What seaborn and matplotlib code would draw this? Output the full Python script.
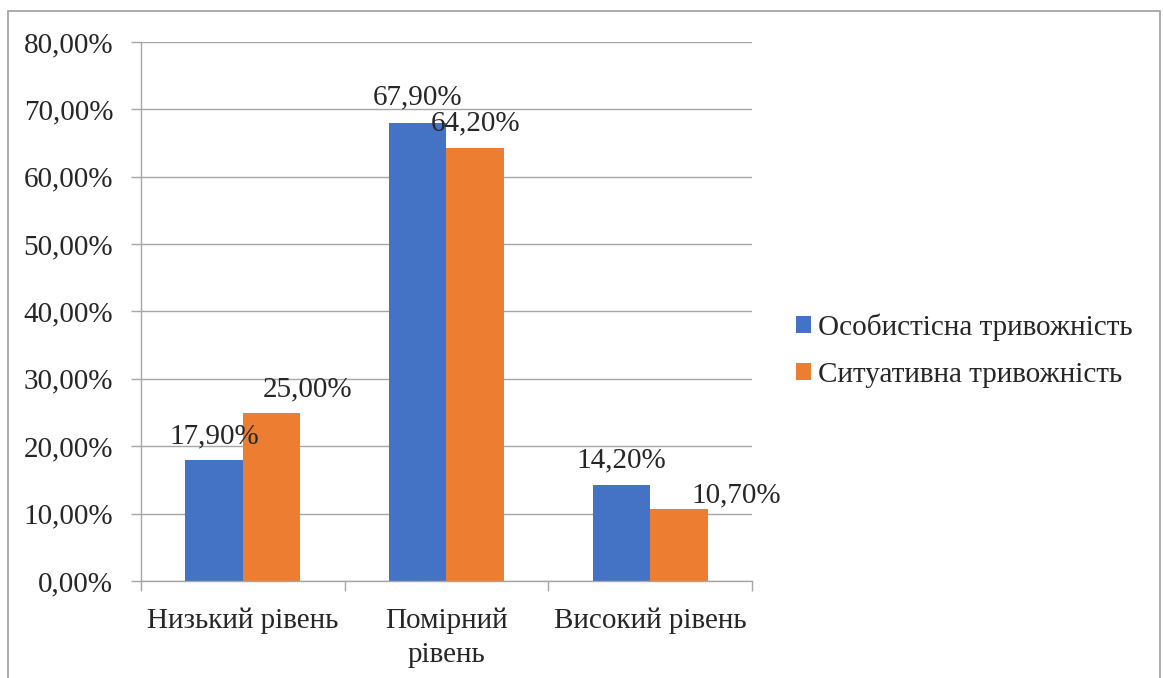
import pandas as pd
import matplotlib.pyplot as plt
import seaborn as sns
from matplotlib.ticker import FuncFormatter, FixedLocator
from matplotlib.patches import Rectangle

categories = ["Низький рівень", "Помірний\nрівень", "Високий рівень"]
series = ["Особистісна тривожність", "Ситуативна тривожність"]
personal = [17.9, 67.9, 14.2]
situational = [25.0, 64.2, 10.7]

df = pd.DataFrame({
    "category": categories * 2,
    "series": [series[0]] * 3 + [series[1]] * 3,
    "value": personal + situational,
})

sns.set_style("white")
plt.rcParams["font.family"] = ["Liberation Serif", "DejaVu Serif"]
FS = 21

fig = plt.figure(figsize=(11.63, 6.78), dpi=100)
ax = fig.add_axes([0.1212, 0.1431, 0.5254, 0.795])

sns.barplot(data=df, x="category", y="value", hue="series",
            palette=["#4472C4", "#ED7D31"], width=0.565, saturation=1,
            errorbar=None, linewidth=0, ax=ax)

fmt = lambda v: f"{v:.2f}%".replace(".", ",")
# label nudges (points), as Excel placed them to avoid overlaps
nudge = [[(0, 12.5), (0, 13.5), (0, 13)],
         [(26, 11.5), (0, 13), (41, 5)]]
for i, cont in enumerate(ax.containers):
    for j, b in enumerate(cont):
        ax.annotate(fmt(b.get_height()),
                    (b.get_x() + b.get_width() / 2, b.get_height()),
                    xytext=nudge[i][j], textcoords="offset points",
                    ha="center", va="baseline", fontsize=FS)

ax.set_ylim(0, 80)
ax.set_xlim(-0.5, 2.5)
ax.yaxis.set_major_locator(FixedLocator(range(0, 81, 10)))
ax.yaxis.set_major_formatter(FuncFormatter(lambda v, p: fmt(v)))
ax.grid(axis="y", color="#A6A6A6", linewidth=1)
ax.set_axisbelow(True)
for s in ["top", "right"]:
    ax.spines[s].set_visible(False)
for s in ["left", "bottom"]:
    ax.spines[s].set_color("#A6A6A6")
    ax.spines[s].set_linewidth(1)

ax.tick_params(axis="y", length=7, color="#A6A6A6", width=1, left=True,
               labelsize=FS, pad=13)
ax.set_xticks([0, 1, 2])
ax.set_xticklabels(categories, fontsize=FS, va="top", linespacing=1.4)
ax.set_xticks([-0.5, 0.5, 1.5, 2.5], minor=True)
ax.tick_params(axis="x", which="major", length=0, pad=19)
ax.tick_params(axis="x", which="minor", length=7, color="#A6A6A6", width=1,
               bottom=True)
ax.set_xlabel("")
ax.set_ylabel("")

ax.legend(loc="center left", bbox_to_anchor=(1.072, 0.427), frameon=False,
          fontsize=FS, handlelength=0.5, handleheight=0.5,
          handletextpad=0.25, labelspacing=0.72, borderpad=0,
          borderaxespad=0)

fig.patches.append(Rectangle((0.0069, -0.05), 0.9905, 1.0338,
                             transform=fig.transFigure, fill=False,
                             edgecolor="#A0A0A0", linewidth=1.2))

plt.savefig("out.png", dpi=100)
